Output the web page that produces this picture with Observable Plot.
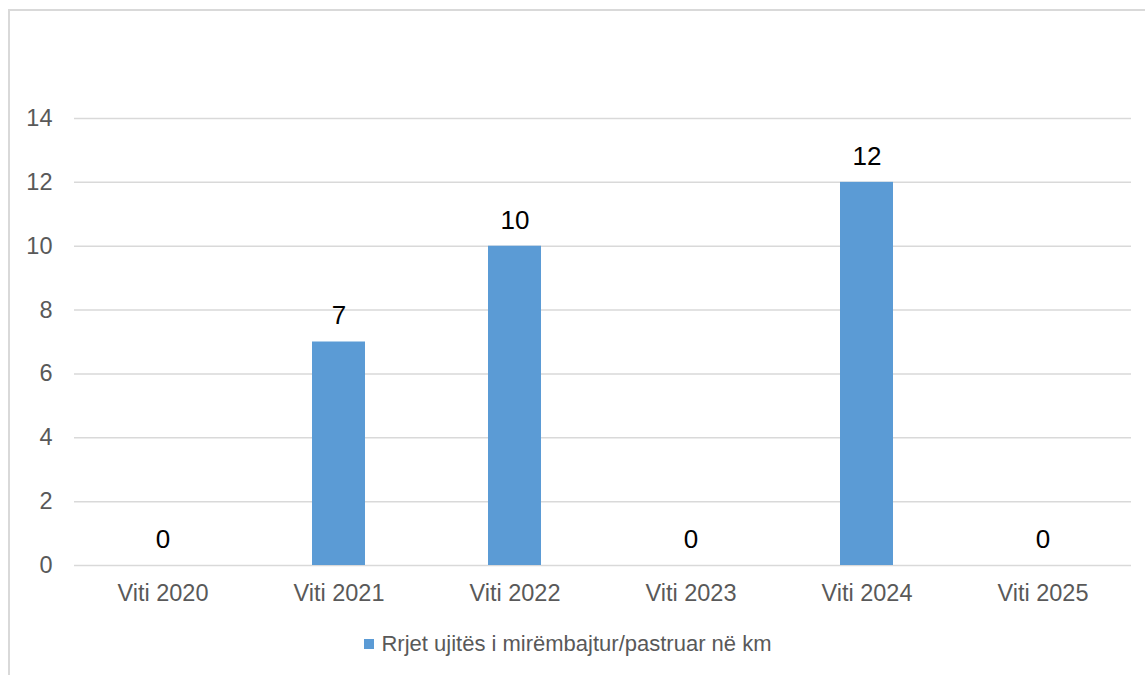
<!DOCTYPE html>
<html>
<head>
<meta charset="utf-8">
<script src="https://cdn.jsdelivr.net/npm/d3@7"></script>
<script src="https://cdn.jsdelivr.net/npm/@observablehq/plot@0.6"></script>
<style>
  html, body { margin: 0; padding: 0; background: #fff; overflow: hidden; }
  #wrap { position: relative; width: 1145px; height: 675px; font-family: "Liberation Sans", Arial, sans-serif; }
  #border { position: absolute; left: 8px; top: 9px; width: 1300px; height: 900px; border: 2px solid #d9d9d9; box-sizing: border-box; }
  #chart { position: absolute; left: 0; top: 0; }
  #legend { position: absolute; left: 0; top: 620px; width: 1136px; height: 48px; display: flex; justify-content: center; align-items: center; font-size: 22px; color: #595959; }
  #legend .sw { display: inline-block; width: 10px; height: 10px; background: #5b9bd5; margin-right: 7px; }
</style>
</head>
<body>
<div id="wrap">
  <div id="border"></div>
  <div id="chart"></div>
  <div id="legend"><span class="sw"></span><span id="legendText"></span></div>
</div>
<script>
const categories = ["Viti 2020", "Viti 2021", "Viti 2022", "Viti 2023", "Viti 2024", "Viti 2025"];
const values = [0, 7, 10, 0, 12, 0];
const seriesName = "Rrjet ujitës i mirëmbajtur/pastruar në km";
const yTicks = [0, 2, 4, 6, 8, 10, 12, 14];

const data = categories.map((c, i) => ({category: c, value: values[i]}));

const chart = Plot.plot({
  width: 1145,
  height: 620,
  marginLeft: 74,
  marginRight: 14,
  marginTop: 118,
  marginBottom: 55,
  style: { fontFamily: "'Liberation Sans', Arial, sans-serif", background: "transparent", overflow: "visible" },
  x: { domain: categories, paddingInner: 0.7, paddingOuter: 0.35, label: null },
  y: { domain: [0, 14], ticks: yTicks, label: null },
  marks: [
    Plot.gridY(yTicks, { stroke: "#d9d9d9", strokeOpacity: 1, strokeWidth: 1.5 }),
    Plot.barY(data, { x: "category", y: "value", fill: "#5b9bd5" }),
    Plot.text(data, { x: "category", y: "value", text: d => String(d.value), dy: -26, fontSize: 26, fill: "#000" }),
    Plot.axisX({ tickSize: 0, tickPadding: 19, fontSize: 23.5, color: "#595959", label: null }),
    Plot.axisY(yTicks, { tickSize: 0, tickPadding: 22, fontSize: 23.5, color: "#595959", label: null })
  ]
});
document.getElementById("chart").appendChild(chart);
document.getElementById("legendText").textContent = seriesName;
</script>
</body>
</html>
